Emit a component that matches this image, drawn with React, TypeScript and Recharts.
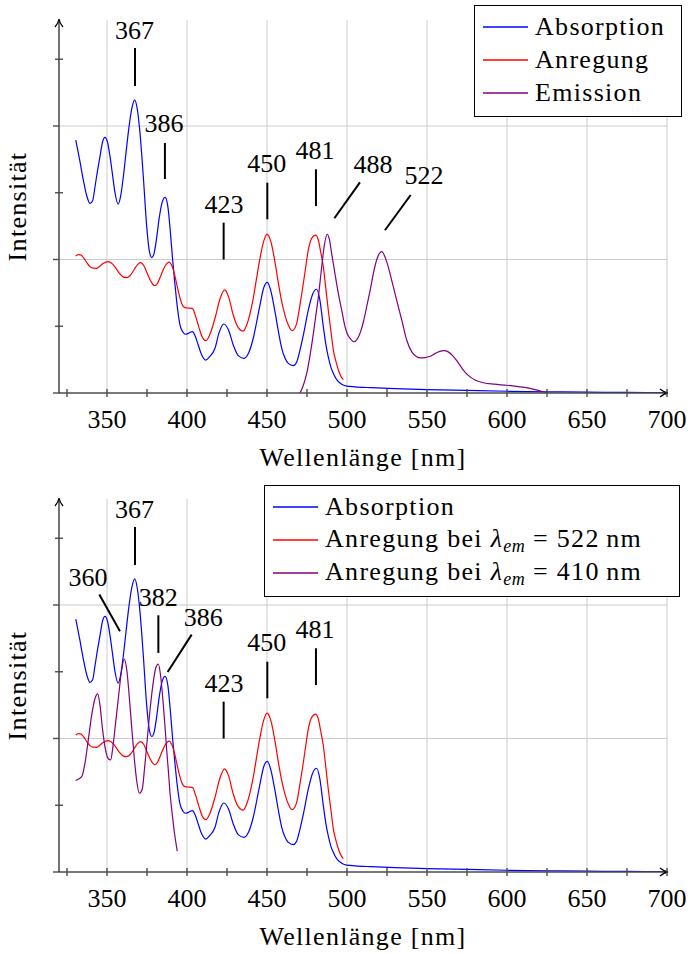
import React from 'react';
import {
  LineChart,
  Line,
  XAxis,
  YAxis,
  CartesianGrid,
  ReferenceLine,
  ReferenceDot,
  Legend,
  Label,
} from 'recharts';

// ---------- data ----------
const xTicks = [325, 350, 375, 400, 425, 450, 475, 500, 525, 550, 575, 600, 625, 650, 675, 700];
const xGridValues = [350, 400, 450, 500, 550, 600, 650, 700];
const yTicks = [0, 0.5, 1, 1.5, 2, 2.5];
const yGridValues = [1, 2];
const xDomain: [number, number] = [320, 700];
const yDomain: [number, number] = [0, 2.794];

const absorption: [number, number][] = [
  [330.5, 1.895], [333, 1.74], [335.2, 1.595], [337.5, 1.47], [339.4, 1.42], [341, 1.44], [342.5, 1.545],
  [344, 1.66], [345.6, 1.77], [347.2, 1.88], [348.75, 1.915], [350.3, 1.88], [351.9, 1.77], [353.5, 1.63],
  [355, 1.5], [357, 1.415], [358.6, 1.48], [360.2, 1.62], [361.8, 1.79], [363.3, 1.95], [365.5, 2.13],
  [367.3, 2.195], [369, 2.12], [370.6, 1.95], [372.7, 1.62], [374.8, 1.25], [376.5, 1.06], [378, 1.015],
  [379.5, 1.05], [381, 1.16], [382.5, 1.3], [384.5, 1.43], [386.3, 1.466], [388, 1.4], [389.5, 1.22],
  [391, 1.0], [392.5, 0.81], [394, 0.64], [395.6, 0.51], [397.5, 0.455], [399, 0.44], [400.5, 0.445],
  [402, 0.455], [403.5, 0.46], [405, 0.43], [407, 0.36], [409, 0.29], [411.7, 0.247], [414, 0.27],
  [417.5, 0.335], [420, 0.45], [423, 0.517], [426, 0.47], [428.9, 0.36], [432, 0.28], [435.6, 0.26],
  [438.5, 0.3], [441.4, 0.41], [443.5, 0.53], [445.6, 0.659], [448, 0.79], [450.2, 0.829], [452.5, 0.76],
  [455, 0.609], [457, 0.47], [459.2, 0.335], [461.3, 0.26], [463.3, 0.222], [466.5, 0.205], [468.5, 0.23],
  [470.6, 0.32], [473, 0.45], [475.8, 0.62], [478.5, 0.74], [481, 0.777], [483, 0.7], [485.2, 0.497],
  [486.7, 0.37], [488.3, 0.27], [490, 0.19], [491.5, 0.147], [493, 0.11], [494.6, 0.085], [497, 0.064],
  [499.8, 0.052], [505, 0.046], [515, 0.04], [530, 0.033], [550, 0.026], [575, 0.019], [600, 0.013],
  [625, 0.009], [650, 0.006], [675, 0.004], [700, 0.003],
];

const excitation522: [number, number][] = [
  [330.5, 1.025], [332, 1.037], [333.5, 1.035], [335.5, 1.01], [337.5, 0.975], [339.5, 0.945], [341.5, 0.935],
  [343.6, 0.934], [345.5, 0.95], [347.5, 0.97], [350.8, 0.984], [352.5, 0.975], [355, 0.945], [357.5, 0.9],
  [360, 0.87], [362.3, 0.864], [364.5, 0.88], [367, 0.925], [369, 0.96], [371, 0.976], [373, 0.955],
  [375, 0.9], [377.5, 0.835], [379.6, 0.804], [381.5, 0.82], [384, 0.89], [386.5, 0.955], [388.75, 0.981],
  [390.5, 0.955], [392, 0.9], [393.5, 0.82], [395, 0.74], [396.7, 0.67], [398.75, 0.639], [401, 0.636],
  [403.5, 0.632], [405.5, 0.57], [407.5, 0.49], [409.5, 0.42], [411.7, 0.392], [414, 0.43], [417.5, 0.56],
  [420.5, 0.7], [423.5, 0.772], [426, 0.72], [428.9, 0.584], [432, 0.49], [435.2, 0.464], [437.3, 0.509],
  [439.5, 0.6], [441.4, 0.709], [443.5, 0.86], [445.6, 1.009], [448, 1.14], [450, 1.19], [452.5, 1.13],
  [455, 0.98], [457, 0.83], [459.2, 0.684], [461.3, 0.58], [463.3, 0.509], [465.8, 0.467], [468.5, 0.52],
  [470.6, 0.66], [472.7, 0.82], [474.5, 0.97], [475.8, 1.07], [478, 1.16], [480.4, 1.183], [482, 1.15],
  [483.5, 1.06], [485.2, 0.946], [486.8, 0.78], [488.3, 0.62], [490, 0.46], [491.5, 0.32], [493, 0.24],
  [494.6, 0.172], [496, 0.13], [497.7, 0.1],
];

const emission: [number, number][] = [
  [470.6, 0.0], [472.5, 0.05], [474.8, 0.147], [477, 0.29], [479, 0.447], [480.5, 0.58], [482.1, 0.72],
  [484.2, 0.946], [486, 1.12], [487.7, 1.189], [489, 1.15], [490.4, 1.046], [492, 0.93], [493.5, 0.82],
  [495, 0.72], [496.7, 0.62], [498.75, 0.497], [500.3, 0.44], [501.9, 0.41], [504.4, 0.384], [506.5, 0.405],
  [508.5, 0.46], [510.5, 0.545], [512.3, 0.647], [514.5, 0.77], [516.5, 0.897], [518.9, 1.009],
  [521.7, 1.059], [524.8, 0.984], [527.9, 0.846], [531, 0.697], [534.2, 0.547], [537.3, 0.397],
  [540.4, 0.31], [543.5, 0.272], [546, 0.263], [548.75, 0.265], [552, 0.275], [555, 0.295], [558, 0.312],
  [560.6, 0.317], [563, 0.31], [566, 0.28], [569, 0.235], [572.7, 0.172], [576, 0.13], [580, 0.097],
  [585.2, 0.077], [592, 0.066], [599.8, 0.058], [607, 0.048], [614.4, 0.035], [620, 0.018], [624.8, 0.002],
];

const excitation410: [number, number][] = [
  [330.4, 0.685], [332, 0.695], [334.2, 0.715], [336.3, 0.82], [338.3, 0.99], [340.5, 1.18], [342.5, 1.3],
  [344.2, 1.335], [345.6, 1.25], [347.2, 1.07], [349, 0.92], [350.8, 0.848], [352.3, 0.84], [353.8, 0.95],
  [355.5, 1.13], [357, 1.29], [359, 1.5], [360.8, 1.595], [362.5, 1.5], [364, 1.3], [365.4, 1.09],
  [367, 0.86], [368.6, 0.68], [370.2, 0.59], [372, 0.62], [373.5, 0.78], [375.2, 1.0], [376.9, 1.215],
  [379, 1.43], [380.5, 1.53], [382.1, 1.558], [383.5, 1.47], [385, 1.28], [386.25, 1.09], [387.3, 0.915],
  [388.4, 0.75], [389.4, 0.59], [390.8, 0.43], [392.2, 0.29], [393.9, 0.157],
];

type Annotation = { label: string; text: [number, number]; from: [number, number]; to: [number, number] };

const topAnnotations: Annotation[] = [
  { label: '367', text: [367.2, 2.652], from: [367.5, 2.3], to: [367.5, 2.584] },
  { label: '386', text: [385.6, 1.955], from: [386.2, 1.603], to: [386.2, 1.873] },
  { label: '423', text: [423.1, 1.346], from: [422.9, 1.0], to: [422.9, 1.276] },
  { label: '450', text: [449.8, 1.653], from: [450.2, 1.301], to: [450.2, 1.575] },
  { label: '481', text: [480.0, 1.751], from: [480.6, 1.4], to: [480.6, 1.676] },
  { label: '488', text: [516.2, 1.65], from: [492.1, 1.309], to: [508.1, 1.578] },
  { label: '522', text: [548.1, 1.563], from: [523.7, 1.219], to: [539.8, 1.483] },
];

const bottomAnnotations: Annotation[] = [
  { label: '367', text: [367.2, 2.652], from: [367.5, 2.3], to: [367.5, 2.584] },
  { label: '360', text: [338.1, 2.146], from: [345.2, 2.078], to: [358.1, 1.803] },
  { label: '382', text: [382.1, 1.99], from: [382.1, 1.641], to: [382.1, 1.923] },
  { label: '386', text: [410.2, 1.84], from: [387.9, 1.498], to: [402.9, 1.778] },
  { label: '423', text: [423.1, 1.346], from: [422.9, 1.0], to: [422.9, 1.276] },
  { label: '450', text: [449.8, 1.653], from: [450.2, 1.301], to: [450.2, 1.575] },
  { label: '481', text: [480.0, 1.751], from: [480.6, 1.4], to: [480.6, 1.676] },
];

// ---------- styles ----------
const FONT = '"Liberation Serif", "Times New Roman", serif';
const FS = 26;
const WORD_SPACING = 1.3;
const BLUE = '#0000ff';
const RED = '#ff0000';
const PURPLE = '#800080';

const toPoints = (arr: [number, number][]) => arr.map(([x, y]) => ({ x, y }));

const XTick = (p: any) => {
  const v = p.payload?.value;
  return (
    <g>
      <line x1={p.x} x2={p.x} y1={p.y - 4} y2={p.y + 4} stroke="#4d4d4d" strokeWidth={1.4} />
      {v % 50 === 0 && (
        <text x={p.x} y={p.y + 34.5} textAnchor="middle" fontFamily={FONT} fontSize={FS} fill="#000">
          {v}
        </text>
      )}
    </g>
  );
};

const YTick = (p: any) => {
  const v = p.payload?.value;
  const major = Math.abs(v - Math.round(v)) < 1e-6;
  return (
    <line
      x1={p.x - (major ? 6 : 4)}
      x2={p.x + (major ? 0 : 4)}
      y1={p.y}
      y2={p.y}
      stroke="#4d4d4d"
      strokeWidth={1.4}
    />
  );
};

type LegendItem = { label: React.ReactNode; color: string };

const LegendBox = ({ items, width }: { items: LegendItem[]; width: number }) => (
  <div
    style={{
      width,
      height: 112,
      boxSizing: 'border-box',
      border: '1.3px solid #000',
      background: '#fff',
      paddingTop: 4,
      paddingLeft: 8,
      fontFamily: FONT,
      fontSize: FS,
      letterSpacing: WORD_SPACING,
      color: '#000',
    }}
  >
    {items.map((it, i) => (
      <div key={i} style={{ display: 'flex', alignItems: 'center', height: 33, whiteSpace: 'nowrap' }}>
        <svg width={45} height={4} style={{ marginRight: 7, flex: 'none' }}>
          <line x1={0} x2={45} y1={2} y2={2} stroke={it.color} strokeWidth={1.3} />
        </svg>
        <span style={{ lineHeight: '33px' }}>{it.label}</span>
      </div>
    ))}
  </div>
);

const Lambda = ({ value }: { value: string }) => (
  <>
    Anregung bei <i>λ</i>
    <span style={{ fontSize: 18, fontStyle: 'italic', position: 'relative', top: 5, letterSpacing: 0.5 }}>em</span>
    {' = '}
    {value}
    {'\u2009nm'}
  </>
);

const ArrowRight = (p: any) => (
  <path
    d={`M ${p.cx - 7} ${p.cy - 4} Q ${p.cx - 3} ${p.cy - 0.6} ${p.cx + 1} ${p.cy} Q ${p.cx - 3} ${p.cy + 0.6} ${p.cx - 7} ${p.cy + 4}`}
    fill="none"
    stroke="#000"
    strokeWidth={1.3}
  />
);

const ArrowUp = (p: any) => (
  <path
    d={`M ${p.cx - 4} ${p.cy + 7} Q ${p.cx - 0.6} ${p.cy + 3} ${p.cx} ${p.cy - 1} Q ${p.cx + 0.6} ${p.cy + 3} ${p.cx + 4} ${p.cy + 7}`}
    fill="none"
    stroke="#000"
    strokeWidth={1.3}
  />
);

type Series = { name: string; data: [number, number][]; color: string };

const Spectrum = ({
  height,
  series,
  annotations,
  legendItems,
  legendLeft,
  legendTop,
  legendWidth,
}: {
  height: number;
  series: Series[];
  annotations: Annotation[];
  legendItems: LegendItem[];
  legendLeft: number;
  legendTop: number;
  legendWidth: number;
}) => (
  <LineChart width={688} height={height} margin={{ top: 20, right: 21, bottom: 0, left: 0 }}>
    <CartesianGrid
      horizontalValues={yGridValues}
      verticalValues={xGridValues}
      stroke="#cccccc"
      strokeWidth={1}
    />
    <XAxis
      type="number"
      dataKey="x"
      domain={xDomain}
      ticks={xTicks}
      interval={0}
      allowDataOverflow
      height={height - 20 - 373}
      tickSize={0}
      tickMargin={0}
      tickLine={false}
      tick={<XTick />}
      axisLine={{ stroke: '#4d4d4d', strokeWidth: 1.6 }}
    >
      <Label
        content={(props: any) => {
          const vb = props.viewBox || { x: 59, y: 373 + 20, width: 608 };
          return (
            <text
              x={vb.x + vb.width / 2}
              y={vb.y + 73}
              textAnchor="middle"
              fontFamily={FONT}
              fontSize={FS}
              letterSpacing={WORD_SPACING}
              fill="#000"
            >
              Wellenlänge [nm]
            </text>
          );
        }}
      />
    </XAxis>
    <YAxis
      type="number"
      domain={yDomain}
      ticks={yTicks}
      interval={0}
      allowDataOverflow
      width={59}
      tickSize={0}
      tickMargin={0}
      tickLine={false}
      tick={<YTick />}
      axisLine={{ stroke: '#000', strokeWidth: 1.1 }}
    >
      <Label
        content={(props: any) => {
          const vb = props.viewBox || { x: 0, y: 20, width: 59, height: 373 };
          const x = vb.x + 26;
          const y = vb.y + vb.height / 2;
          return (
            <text
              x={x}
              y={y}
              transform={`rotate(-90 ${x} ${y})`}
              textAnchor="middle"
              fontFamily={FONT}
              fontSize={FS}
              letterSpacing={WORD_SPACING}
              fill="#000"
            >
              Intensität
            </text>
          );
        }}
      />
    </YAxis>
    {series.map((s) => (
      <Line
        key={s.name}
        name={s.name}
        data={toPoints(s.data)}
        dataKey="y"
        type="monotone"
        stroke={s.color}
        strokeWidth={1.2}
        dot={false}
        activeDot={false}
        isAnimationActive={false}
      />
    ))}
    {annotations.map((a, i) => (
      <ReferenceLine
        key={`l${i}`}
        segment={[
          { x: a.from[0], y: a.from[1] },
          { x: a.to[0], y: a.to[1] },
        ]}
        stroke="#000"
        strokeWidth={2}
        ifOverflow="visible"
      />
    ))}
    {annotations.map((a, i) => (
      <ReferenceDot
        key={`t${i}`}
        x={a.text[0]}
        y={a.text[1]}
        r={0}
        ifOverflow="visible"
        shape={(p: any) => (
          <text x={p.cx} y={p.cy} textAnchor="middle" fontFamily={FONT} fontSize={FS} fill="#000">
            {a.label}
          </text>
        )}
      />
    ))}
    <ReferenceDot x={xDomain[1]} y={0} r={0} ifOverflow="visible" shape={ArrowRight} />
    <ReferenceDot x={xDomain[0]} y={yDomain[1]} r={0} ifOverflow="visible" shape={ArrowUp} />
    <Legend
      layout="horizontal"
      verticalAlign="middle"
      align="center"
      wrapperStyle={{ left: legendLeft, top: legendTop, width: legendWidth, height: 112 }}
      content={() => <LegendBox items={legendItems} width={legendWidth} />}
    />
  </LineChart>
);

export default function App() {
  return (
    <div style={{ position: 'absolute', left: 0, top: 0, width: 688, height: 954, background: '#fff', overflow: 'hidden' }}>
      <div style={{ position: 'absolute', left: 0, top: 0 }}>
        <Spectrum
          height={479}
          series={[
            { name: 'Absorption', data: absorption, color: BLUE },
            { name: 'Anregung', data: excitation522, color: RED },
            { name: 'Emission', data: emission, color: PURPLE },
          ]}
          annotations={topAnnotations}
          legendItems={[
            { label: 'Absorption', color: BLUE },
            { label: 'Anregung', color: RED },
            { label: 'Emission', color: PURPLE },
          ]}
          legendLeft={474}
          legendTop={5}
          legendWidth={208}
        />
      </div>
      <div style={{ position: 'absolute', left: 0, top: 479 }}>
        <Spectrum
          height={475}
          series={[
            { name: 'Absorption', data: absorption, color: BLUE },
            { name: 'Anregung522', data: excitation522, color: RED },
            { name: 'Anregung410', data: excitation410, color: PURPLE },
          ]}
          annotations={bottomAnnotations}
          legendItems={[
            { label: 'Absorption', color: BLUE },
            { label: <Lambda value="522" />, color: RED },
            { label: <Lambda value="410" />, color: PURPLE },
          ]}
          legendLeft={264}
          legendTop={6}
          legendWidth={416}
        />
      </div>
    </div>
  );
}
